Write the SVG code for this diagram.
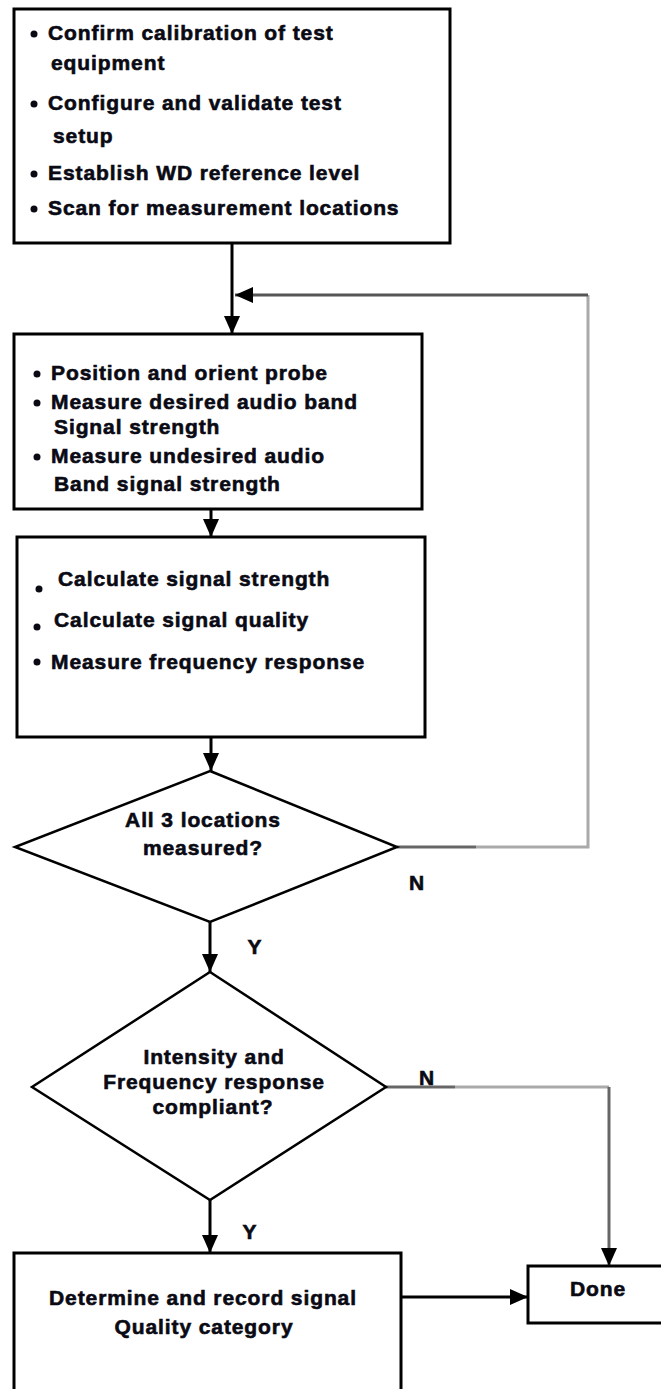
<svg xmlns="http://www.w3.org/2000/svg" width="661" height="1389" viewBox="0 0 661 1389">
<style>
.box{fill:#fff;stroke:#000;stroke-width:3}
.dia{fill:#fff;stroke:#000;stroke-width:2.5}
.t{font-family:"Liberation Sans",Arial,sans-serif;font-weight:bold;font-size:21px;letter-spacing:0.9px;fill:#0a0a14;stroke:#0a0a14;stroke-width:0.6}
.c{text-anchor:middle}
.b{fill:#0a0a14}
.ln{fill:none;stroke:#000;stroke-width:3}
.dk{fill:none;stroke:#555;stroke-width:3}
.g1{fill:none;stroke:#666;stroke-width:3}
.g2{fill:none;stroke:#aaa;stroke-width:3}
</style>
<defs>
<marker id="ah" markerUnits="userSpaceOnUse" markerWidth="20" markerHeight="16" refX="18" refY="8" orient="auto">
<path d="M0,0 L18,8 L0,16 z" fill="#000"/>
</marker>
</defs>
<rect width="661" height="1389" fill="#fff"/>
<g id="connectors">
<line class="ln" x1="232" y1="243" x2="232" y2="334" marker-end="url(#ah)"/>
<line class="g1" x1="397" y1="847" x2="476" y2="847"/>
<polyline class="g2" points="476,847 588,847 588,295"/>
<line class="dk" x1="588" y1="295" x2="235" y2="295" marker-end="url(#ah)"/>
<line class="ln" x1="211" y1="509" x2="211" y2="537" marker-end="url(#ah)"/>
<line class="ln" x1="211" y1="737" x2="211" y2="771" marker-end="url(#ah)"/>
<line class="ln" x1="210" y1="922" x2="210" y2="972" marker-end="url(#ah)"/>
<line class="ln" x1="210" y1="1200" x2="210" y2="1253" marker-end="url(#ah)"/>
<line class="g1" x1="386" y1="1087" x2="455" y2="1087"/>
<line class="g2" x1="455" y1="1087" x2="609" y2="1087"/>
<line class="g1" x1="609" y1="1087" x2="609" y2="1266" marker-end="url(#ah)"/>
<line class="ln" x1="401" y1="1297" x2="528" y2="1297" marker-end="url(#ah)"/>
<text class="t c" x="417" y="890">N</text>
<text class="t c" x="255" y="954">Y</text>
<text class="t c" x="427" y="1085">N</text>
<text class="t c" x="250" y="1239">Y</text>
</g>
<g id="setup">
<rect class="box" x="14" y="9" width="436" height="234"/>
<circle class="b" cx="34" cy="34" r="3.5"/>
<text class="t" x="48" y="40">Confirm calibration of test</text>
<text class="t" x="51" y="70">equipment</text>
<circle class="b" cx="34" cy="104" r="3.5"/>
<text class="t" x="48" y="110">Configure and validate test</text>
<text class="t" x="53" y="143">setup</text>
<circle class="b" cx="34" cy="174" r="3.5"/>
<text class="t" x="48" y="180">Establish WD reference level</text>
<circle class="b" cx="34" cy="209" r="3.5"/>
<text class="t" x="48" y="215">Scan for measurement locations</text>
</g>
<g id="measure">
<rect class="box" x="14" y="334" width="408" height="175"/>
<circle class="b" cx="37" cy="374" r="3.5"/>
<text class="t" x="51" y="380">Position and orient probe</text>
<circle class="b" cx="37" cy="403" r="3.5"/>
<text class="t" x="51" y="409">Measure desired audio band</text>
<text class="t" x="54" y="434">Signal strength</text>
<circle class="b" cx="37" cy="457" r="3.5"/>
<text class="t" x="51" y="463">Measure undesired audio</text>
<text class="t" x="54" y="491">Band signal strength</text>
</g>
<g id="calculate">
<rect class="box" x="17" y="537" width="408" height="200"/>
<circle class="b" cx="39" cy="589" r="3.5"/>
<text class="t" x="58" y="586">Calculate signal strength</text>
<circle class="b" cx="37" cy="627" r="3.5"/>
<text class="t" x="54" y="627">Calculate signal quality</text>
<circle class="b" cx="37" cy="662" r="3.5"/>
<text class="t" x="51" y="669">Measure frequency response</text>
</g>
<g id="locations">
<polygon class="dia" points="210,771 397,847 210,922 15,847"/>
<text class="t c" x="203" y="827">All 3 locations</text>
<text class="t c" x="203" y="855">measured?</text>
</g>
<g id="compliant">
<polygon class="dia" points="210,972 386,1087 210,1200 32,1087"/>
<text class="t c" x="214" y="1064">Intensity and</text>
<text class="t c" x="214" y="1089">Frequency response</text>
<text class="t c" x="213" y="1114">compliant?</text>
</g>
<g id="record">
<rect class="box" x="14" y="1253" width="387" height="150"/>
<text class="t c" x="203" y="1305">Determine and record signal</text>
<text class="t c" x="204" y="1334">Quality category</text>
</g>
<g id="done">
<rect class="box" x="528" y="1266" width="140" height="57"/>
<text class="t c" x="598" y="1296">Done</text>
</g>
</svg>
